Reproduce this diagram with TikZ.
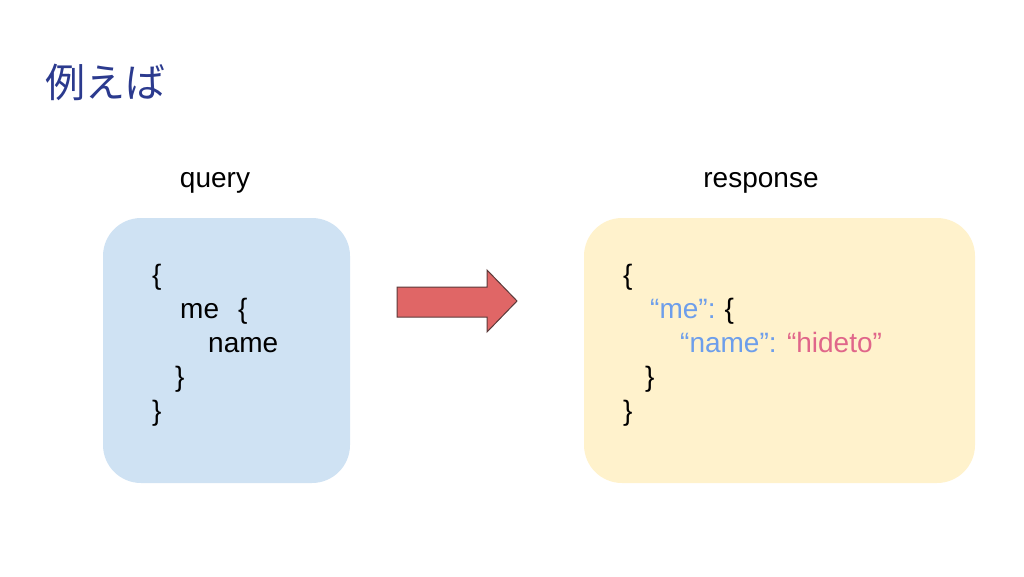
\documentclass[tikz,border=0pt]{standalone}
\usepackage{fontspec}
\setmainfont{Liberation Sans}
\newfontfamily\jpfont{Noto Sans CJK JP}
\usetikzlibrary{positioning}
\definecolor{titleblue}{HTML}{2B3A8E}
\definecolor{qfill}{HTML}{CFE2F3}
\definecolor{rfill}{HTML}{FFF2CC}
\definecolor{keyblue}{HTML}{6D9EEB}
\definecolor{valpink}{HTML}{E0668A}
\definecolor{arrowfill}{HTML}{E06666}
\definecolor{arrowline}{HTML}{5B3A3A}
\tikzset{every node/.style={inner sep=0pt, anchor=base west, font=\fontsize{28}{32}\selectfont},
  box/.style={rounded corners=38pt, draw=none},
  bigarrow/.style={fill=arrowfill, draw=arrowline, line width=1pt, line join=miter},
  key/.style={text=keyblue}}

\begin{document}
\begin{tikzpicture}[x=1pt,y=-1pt]
  \useasboundingbox (0,0) rectangle (1024,576);
  \node[font=\jpfont\fontsize{40}{44}\selectfont, text=titleblue] (title) at (45,97) {例えば};
  % labels
  \node[anchor=base] (qlabel) at (215,187) {query};
  \node[anchor=base] (rlabel) at (761,187) {response};
  % boxes
  \fill[box, qfill] (103,218) rectangle (350,483);
  \fill[box, rfill] (584,218) rectangle (975,483);
  % query
  \node (q1) at (152,284) {\{};
  \node (q2) at (180,318) {me\hspace{19pt}\{};
  \node (q3) at (208,352) {name};
  \node (q4) at (175,386) {\}};
  \node (q5) at (152,420) {\}};
  % response
  \node (r1) at (623,284) {\{};
  \node (r2) at (650,318) {\textcolor{keyblue}{“me”:}\hspace{9pt}\{};
  \node (r3) at (680,352) {\textcolor{keyblue}{“name”:} \textcolor{valpink}{“hideto”}};
  \node (r4) at (645,386) {\}};
  \node (r5) at (623,420) {\}};
  % arrow
  \draw[bigarrow] (397,287) -- (487,287) -- (487,270) -- (517,301) -- (487,332) -- (487,317) -- (397,317) -- cycle;
\end{tikzpicture}
\end{document}
